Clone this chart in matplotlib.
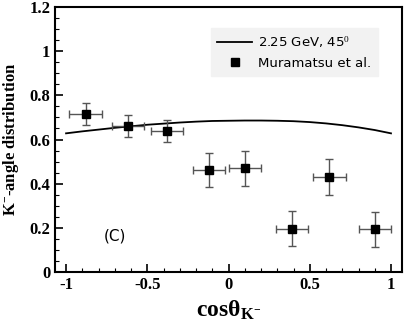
import numpy as np
import matplotlib.pyplot as plt
from matplotlib.ticker import MultipleLocator

plt.rcParams['mathtext.fontset'] = 'custom'
plt.rcParams['mathtext.rm'] = 'Liberation Serif'
plt.rcParams['mathtext.bf'] = 'Liberation Serif:bold'
plt.rcParams['mathtext.it'] = 'Liberation Serif:italic'

# theory curve 2.25 GeV, 45 deg
curve_x = [-1.0, -0.9, -0.8, -0.7, -0.6, -0.5, -0.4, -0.3, -0.2, -0.1, 0.0,
           0.1, 0.2, 0.3, 0.4, 0.5, 0.6, 0.7, 0.8, 0.9, 1.0]
curve_y = [0.628, 0.637, 0.645, 0.653, 0.660, 0.667, 0.672, 0.677, 0.681, 0.684, 0.685,
           0.686, 0.686, 0.685, 0.683, 0.679, 0.673, 0.665, 0.655, 0.643, 0.628]

# Muramatsu et al. data
data_x = [-0.88, -0.62, -0.38, -0.12, 0.10, 0.39, 0.62, 0.90]
data_y = [0.716, 0.660, 0.640, 0.462, 0.470, 0.196, 0.430, 0.193]
data_yerr = [0.05, 0.05, 0.05, 0.075, 0.08, 0.08, 0.08, 0.08]
data_xerr = [0.1] * 8

fig = plt.figure(figsize=(4.09, 3.27), dpi=100)
ax = fig.add_axes([0.1345, 0.168, 0.8485, 0.8106])

ax.plot(curve_x, curve_y, color='black', lw=1.3, label='2.25 GeV, 45$^0$')
ax.errorbar(data_x, data_y, xerr=data_xerr, yerr=data_yerr, fmt='none',
            ecolor='#555555', elinewidth=1, capsize=3, capthick=1)
ax.plot(data_x, data_y, 's', color='black', ms=6, label='Muramatsu et al.')

ax.set_xlim(-1.068, 1.068)
ax.set_ylim(0, 1.2)
ax.xaxis.set_minor_locator(MultipleLocator(0.1))
ax.yaxis.set_minor_locator(MultipleLocator(0.05))
ax.tick_params(which='both', direction='in', top=False, right=False)
ax.tick_params(which='major', length=6, width=1.2)
ax.tick_params(which='minor', length=3, width=0.8)
ax.set_xticks([-1, -0.5, 0, 0.5, 1])
ax.set_xticklabels(['-1', '-0.5', '0', '0.5', '1'])
ax.set_yticks([0, 0.2, 0.4, 0.6, 0.8, 1, 1.2])
ax.set_yticklabels(['0', '0.2', '0.4', '0.6', '0.8', '1', '1.2'])
for lab in ax.get_xticklabels() + ax.get_yticklabels():
    lab.set_family('Liberation Serif')
    lab.set_fontweight('bold')
    lab.set_fontsize(12)

for s in ax.spines.values():
    s.set_linewidth(1.5)

ax.set_ylabel(r'K$^{\mathbf{-}}$-angle distribution', family='Liberation Serif',
              fontweight='bold', fontsize=12, labelpad=6)
ax.set_xlabel(r'cosθ$_{\mathbf{K}^{\mathbf{-}}}$', family='Liberation Serif',
              fontweight='bold', fontsize=17, labelpad=4)

ax.text(-0.70, 0.163, '(C)', fontsize=11, ha='center', va='center', family='DejaVu Sans')

leg = ax.legend(loc='upper right', bbox_to_anchor=(0.931, 0.921), borderaxespad=0,
                frameon=True, fancybox=False, framealpha=1,
                prop={'family': 'DejaVu Sans', 'size': 9.5},
                handlelength=2.6, handletextpad=0.5, borderpad=0.5, labelspacing=0.5)
leg.get_frame().set_facecolor('#f2f2f2')
leg.get_frame().set_edgecolor('#f2f2f2')

fig.savefig('out.png', dpi=100)
